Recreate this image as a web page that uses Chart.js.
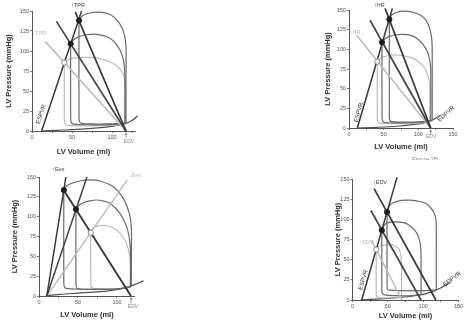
<!DOCTYPE html>
<html><head><meta charset="utf-8">
<script src="https://cdn.jsdelivr.net/npm/chart.js@4.4.1/dist/chart.umd.min.js"></script>
<style>
html,body{margin:0;padding:0;background:#fff;width:467px;height:322px;overflow:hidden;position:relative}
canvas{position:absolute}
</style></head><body>
<canvas id="c1" width="145" height="160" style="left:0;top:0"></canvas>
<canvas id="c2" width="149" height="160" style="left:318px;top:0"></canvas>
<canvas id="c3" width="150" height="162" style="left:0;top:160px"></canvas>
<canvas id="c4" width="142" height="160" style="left:325px;top:162px"></canvas>
<script>
// ---- axis ticks / titles ----
const volTicks = [0,25,50,75,100,125,150];
const volLabels = [0,50,100,150];
const pressTicks = [0,25,50,75,100,125,150];
const xTitle = 'LV Volume (ml)';
const yTitle = 'LV Pressure (mmHg)';

// ---- Panel 1 : TPR ----
const tpr_espvr = [[12,0],[62,150]];
const tpr_eaUp = [[54,149],[117.5,0]];
const tpr_eaBase = [[30.5,137],[117.5,0]];
const tpr_eaDown = [[16.5,112],[117.5,0]];
const tpr_edpvr = [[12,0],[30,0.8],[50,1.8],[75,3.3],[95,5.2],[108,7.2],[117.5,9.5],[125,13],[132,19]];
const tpr_esp = [[58.75,138],[48.3,109],[40.4,85.4]];
const tpr_loopUpArc = [[58.75,138],[63,144],[72,147.5],[85,148.5],[97,146],[106,139],[112,130],[116,118],[117.5,105],[117.5,60],[117.5,30],[117.5,10]];
const tpr_loopBaseArc = [[48.3,109],[52,114],[60,118.5],[70,120.5],[78,121],[88,119.5],[97.5,116],[105,109],[110,101],[113.5,92],[115.5,80],[116,60],[116,30],[116,10]];
const tpr_loopDownArc = [[40.4,85.4],[45,89],[52,91.2],[62,92],[72,92],[82,91],[92,88.5],[102,84],[109,78.5],[114,71],[116.5,63],[117,50],[117,25],[117,9]];
const tpr_loopUpFill = [[58.75,138],[58.75,20],[59.3,12],[62,9.5],[75,8.8],[95,8.8],[108,9.2],[117.5,10]];
const tpr_loopBaseFill = [[48.3,109],[48.3,18],[49,11],[52,8.5],[70,7.8],[95,8],[108,8.8],[116,10]];
const tpr_loopDownFill = [[40.4,85.4],[40.4,16],[41,9.5],[44,7],[65,6.5],[95,7],[108,8],[117,9]];

// ---- Panel 2 : HR ----
const hr_espvr = [[12,0],[62.5,152]];
const hr_eaUp = [[52,152],[117.8,0]];
const hr_eaBase = [[30.3,137],[117.8,0]];
const hr_eaDown = [[11,118],[117.8,0]];
const hr_edpvr = [[12,0],[40,0.8],[70,2.2],[95,4.5],[108,6.5],[117.8,9],[125,12.5],[131,16]];
const hr_esp = [[58.2,138],[47.6,109],[40.9,84.3]];
const hr_loopUpArc = [[58.2,138],[62,144],[70,147.5],[80,148.5],[88,148],[98,145.5],[107,141],[113,134],[117,124.5],[119.5,112],[120,99],[120,60],[120,30],[120,9.5]];
const hr_loopBaseArc = [[47.6,109],[52,113.5],[59,116.5],[68,118.5],[78,119],[88,118],[97.6,114],[106,107],[112,99],[115.5,90],[117.5,80],[118,65],[118,30],[118,9]];
const hr_loopDownArc = [[40.9,84.3],[45,88],[50,90.5],[60,92.5],[69,93],[80,91.5],[92.7,88.5],[102,83],[109.6,76],[113.5,67],[115.5,60],[116.5,50],[116.5,25],[116.5,8.5]];
const hr_loopUpFill = [[58.2,138],[58.2,18],[58.8,10.5],[61.5,8],[80,7.5],[100,7.8],[112,8.5],[120,9.5]];
const hr_loopBaseFill = [[47.6,109],[47.6,16],[48.2,9.5],[51,7],[75,6.5],[100,7],[112,8],[118,9]];
const hr_loopDownFill = [[40.9,84.3],[40.9,14],[41.5,8.5],[44.5,6],[70,5.5],[100,6.3],[112,7.5],[116.5,8.5]];

// ---- Panel 3 : Ees ----
const ees_espvrUp = [[10,0],[34.5,150]];
const ees_espvrBase = [[10,0],[61.5,150]];
const ees_espvrDown = [[10,0],[113,146]];
const ees_ea = [[31,134.5],[118,0]];
const ees_edpvr = [[10,0.5],[30,2.2],[46,3.4],[70,5],[89,6.5],[103,8.5],[112,11],[122,14],[134,19]];
const ees_esp = [[31.8,133.5],[47.4,109.2],[66.4,79.8]];
const ees_loopUpArc = [[31.8,133.5],[35,138],[39.7,141.2],[52.6,145],[65.4,146.3],[78.2,145],[95.3,137.8],[108.1,123.1],[115.8,104.2],[118.5,85],[118.5,60],[118.5,30],[118.5,12]];
const ees_loopBaseArc = [[47.4,109.2],[51,114],[56.8,117.6],[65,120],[74,121],[83,119.5],[91,116.8],[103.8,104.2],[112.4,87.4],[116.5,68],[117.5,50],[117.5,30],[117.5,11.5]];
const ees_loopDownArc = [[66.4,79.8],[68.5,84],[71.8,87.4],[79,88.5],[86.8,88.6],[99.6,83.2],[110.3,70.6],[115.8,53.8],[117,40],[117,25],[117,11.5]];
const ees_loopUpFill = [[31.8,133.5],[31.8,18],[32.5,12],[35,9.5],[55,8.5],[80,8.3],[100,8.8],[110,10],[118.5,12]];
const ees_loopBaseFill = [[47.4,109.2],[47.4,17],[48,11.5],[50.5,9],[70,8.3],[95,8.5],[110,10],[117.5,11.5]];
const ees_loopDownFill = [[66.4,79.8],[66.4,16],[67,11.5],[69.5,9.5],[85,9],[100,9.3],[110,10.5],[117,11.5]];

// ---- Panel 4 : EDV ----
const edv_espvr = [[13,0],[63,152]];
const edv_eaUp = [[30.5,138],[118,0]];
const edv_eaBase = [[26,111],[97,0]];
const edv_eaDown = [[27,74],[70,0]];
const edv_edpvr = [[11,0],[25,0.8],[40,1.5],[60,2.6],[77,4],[95,6.3],[105,8.3],[115,11],[124,14.5],[132,18.5],[138,22]];
const edv_esp = [[48.9,109],[41.5,86.5],[33.6,62.6]];
const edv_loopUpArc = [[48.9,109],[52,116],[56,120],[61.8,121.9],[70,123.5],[80.4,123.8],[92,122.5],[103.6,120],[110,115],[115.2,108.5],[118,100],[118.5,87],[118.5,60],[118.5,30],[118.5,12.5]];
const edv_loopBaseArc = [[41.5,86.5],[44,91.5],[47.8,95],[54,96.5],[61.8,96.9],[70,96.3],[75.7,95],[82,91.5],[87.3,87.3],[91.5,82],[94.3,75.8],[96.6,64.2],[97,50],[97,25],[97,6.5]];
const edv_loopDownArc = [[33.6,62.6],[36,65.5],[40,67],[45.5,68],[52,68.3],[57,68],[62,66],[66.4,62.3],[68.7,52.7],[69.5,40],[69.5,20],[69.5,3]];
const edv_loopUpFill = [[48.9,109],[48.9,17],[49.5,13.5],[52,12.3],[70,11.6],[90,11.4],[105,11.6],[118.5,12.5]];
const edv_loopBaseFill = [[41.5,86.5],[41.5,12],[42.2,8],[45,6.3],[60,5.3],[80,5.3],[97,6.5]];
const edv_loopDownFill = [[33.6,62.6],[33.6,8],[34.3,4.5],[37,3],[50,2.5],[69.5,3]];

// ---- styling ----
const FONT = '"Liberation Sans", Arial, sans-serif';
const DARK = '#383838', MID = '#6a6a6a', LIGHT = '#bdbdbd', AXIS = '#555555';

function pts(a){ return a.map(p => ({x:p[0], y:p[1]})); }
function ln(a, color, w, t){
  return {data:pts(a), showLine:true, borderColor:color, backgroundColor:color, borderWidth:w,
          pointRadius:0, tension:t||0, clip:false, fill:false};
}
function mk(a, fills, strokes){
  return {data:pts(a), showLine:false, pointRadius:2.6, pointStyle:'circle',
          pointBackgroundColor:fills, pointBorderColor:strokes, pointBorderWidth:1, clip:false};
}

const annot = {
  id:'annot',
  afterDatasetsDraw(chart, args, o){
    const ctx = chart.ctx, xs = chart.scales.x, ys = chart.scales.y;
    ctx.save();
    (o.texts||[]).forEach(t => {
      ctx.save();
      ctx.translate(xs.getPixelForValue(t.at[0]), ys.getPixelForValue(t.at[1]));
      if (t.rot) ctx.rotate(t.rot*Math.PI/180);
      ctx.font = (t.bold?'bold ':'') + (t.size||5.5) + 'px ' + FONT;
      ctx.fillStyle = t.color || DARK;
      ctx.textAlign = 'center'; ctx.textBaseline = 'middle';
      ctx.fillText(t.text, 0, 0);
      ctx.restore();
    });
    if (o.edv){
      const x = xs.getPixelForValue(o.edv.v), y0 = ys.getPixelForValue(0);
      ctx.strokeStyle = '#8a8a8a'; ctx.fillStyle = '#8a8a8a'; ctx.lineWidth = 0.8;
      ctx.beginPath(); ctx.moveTo(x, y0+7); ctx.lineTo(x, y0+3); ctx.stroke();
      ctx.beginPath(); ctx.moveTo(x, y0+1); ctx.lineTo(x-1.5, y0+3.8); ctx.lineTo(x+1.5, y0+3.8); ctx.closePath(); ctx.fill();
      ctx.font = '5px ' + FONT; ctx.textAlign = 'center'; ctx.textBaseline = 'middle';
      ctx.fillText('EDV', x + o.edv.dx, y0 + o.edv.dy);
    }
    (o.raw||[]).forEach(t => {
      ctx.font = t.size + 'px ' + FONT; ctx.fillStyle = t.color;
      ctx.textAlign = 'center'; ctx.textBaseline = 'top';
      ctx.fillText(t.text, t.x, t.y);
    });
    ctx.restore();
  }
};

function panel(id, g, datasets, ann){
  new Chart(document.getElementById(id), {
    type:'scatter',
    data:{datasets},
    options:{
      responsive:false, animation:false, events:[],
      layout:{autoPadding:false, padding:{left:0, top:g.pt, right:g.pr, bottom:0}},
      plugins:{legend:{display:false}, tooltip:{enabled:false}, annot:ann},
      scales:{
        x:{type:'linear', min:0, max:g.xmax,
          afterBuildTicks:s => { s.ticks = volTicks.filter(v => v <= g.xmax).map(v => ({value:v})); },
          afterFit:s => { s.height = g.xh; },
          ticks:{callback:v => volLabels.includes(v) ? String(v) : '', color:AXIS,
                 font:{family:FONT, size:5.5}, padding:1, maxRotation:0, minRotation:0, autoSkip:false},
          grid:{drawOnChartArea:false, drawTicks:true, tickLength:2, color:AXIS, lineWidth:0.8},
          border:{display:true, color:AXIS, width:1},
          title:{display:true, text:xTitle, color:'#2e2e2e', font:{family:FONT, size:7.5, weight:'bold'},
                 padding:{top:0, bottom:g.xtb}}
        },
        y:{type:'linear', min:0, max:150,
          afterBuildTicks:s => { s.ticks = pressTicks.map(v => ({value:v})); },
          afterFit:s => { s.width = g.yw; },
          ticks:{callback:v => String(v), color:AXIS, font:{family:FONT, size:5.5}, padding:1, autoSkip:false},
          grid:{drawOnChartArea:false, drawTicks:true, tickLength:2, color:AXIS, lineWidth:0.8},
          border:{display:true, color:AXIS, width:1},
          title:{display:true, text:yTitle, color:'#2e2e2e', font:{family:FONT, size:7.5, weight:'bold'},
                 padding:{top:g.ytp, bottom:0}}
        }
      }
    },
    plugins:[annot]
  });
}

const T = 0.35;
const markFill = ['#1e1e1e','#1e1e1e','#ffffff'];
const markStroke = ['#1e1e1e','#1e1e1e','#8a8a8a'];

// Panel 1
panel('c1', {pt:11, pr:10, xh:29, yw:32, xmax:128.75, xtb:3.5, ytp:4.5}, [
  mk(tpr_esp, markFill, markStroke),
  ln(tpr_espvr, DARK, 1.5),
  ln(tpr_eaUp, DARK, 1.7),
  ln(tpr_eaBase, '#444', 1.7),
  ln(tpr_eaDown, LIGHT, 1.6),
  ln(tpr_loopUpArc, MID, 1.2, T), ln(tpr_loopUpFill, MID, 1.2, T),
  ln(tpr_loopBaseArc, MID, 1.2, T), ln(tpr_loopBaseFill, MID, 1.2, T),
  ln(tpr_loopDownArc, LIGHT, 1.2, T), ln(tpr_loopDownFill, LIGHT, 1.2, T),
  ln(tpr_edpvr, '#505050', 1.2, T)
], {
  texts:[
    {text:'↑TPR', at:[57.5,157], color:'#444'},
    {text:'↓TPR', at:[9,122], color:'#b8b8b8'},
    {text:'ESPVR', at:[11.5,21], rot:-71.6, size:6, color:'#333'}
  ],
  edv:{v:117.5, dx:3, dy:11}
});

// Panel 2
panel('c2', {pt:10, pr:14, xh:32, yw:31, xmax:150, xtb:8.5, ytp:5.2}, [
  mk(hr_esp, markFill, markStroke),
  ln(hr_espvr, DARK, 1.5),
  ln(hr_eaUp, DARK, 1.7),
  ln(hr_eaBase, '#444', 1.7),
  ln(hr_eaDown, LIGHT, 1.6),
  ln(hr_loopUpArc, MID, 1.2, T), ln(hr_loopUpFill, MID, 1.2, T),
  ln(hr_loopBaseArc, MID, 1.2, T), ln(hr_loopBaseFill, MID, 1.2, T),
  ln(hr_loopDownArc, LIGHT, 1.2, T), ln(hr_loopDownFill, LIGHT, 1.2, T),
  ln(hr_edpvr, '#505050', 1.2, T)
], {
  texts:[
    {text:'↑HR', at:[43.7,156.3], color:'#444'},
    {text:'↓HR', at:[8.7,122], color:'#b8b8b8'},
    {text:'ESPVR', at:[14,20], rot:-73.6, size:6, color:'#333'},
    {text:'EDPVR', at:[140,18], rot:-42, size:6, color:'#333'}
  ],
  edv:{v:117.8, dx:0.5, dy:9},
  raw:[{text:'Figure 2B', x:107, y:156.5, size:6, color:'#8a8a8a'}]
});

// Panel 3
panel('c3', {pt:17, pr:15.1, xh:26, yw:39, xmax:123, xtb:2.5, ytp:10.5}, [
  mk(ees_esp, markFill, markStroke),
  ln(ees_ea, DARK, 1.9),
  ln(ees_espvrUp, DARK, 1.5),
  ln(ees_espvrBase, '#444', 1.5),
  ln(ees_espvrDown, LIGHT, 1.4),
  ln(ees_loopUpArc, MID, 1.2, T), ln(ees_loopUpFill, MID, 1.2, T),
  ln(ees_loopBaseArc, MID, 1.2, T), ln(ees_loopBaseFill, MID, 1.2, T),
  ln(ees_loopDownArc, LIGHT, 1.2, T), ln(ees_loopDownFill, LIGHT, 1.2, T),
  ln(ees_edpvr, '#505050', 1.2, T)
], {
  texts:[
    {text:'↑Ees', at:[24.8,159], color:'#444'},
    {text:'↓Ees', at:[123,152.5], color:'#b8b8b8'}
  ],
  edv:{v:118, dx:2, dy:10.7}
});

// Panel 4
panel('c4', {pt:17, pr:8.5, xh:22, yw:27.5, xmax:150, xtb:1.5, ytp:8.5}, [
  mk(edv_esp, markFill, markStroke),
  ln(edv_espvr, DARK, 1.5),
  ln(edv_eaUp, DARK, 1.7),
  ln(edv_eaBase, '#444', 1.7),
  ln(edv_eaDown, LIGHT, 1.6),
  ln(edv_loopUpArc, MID, 1.2, T), ln(edv_loopUpFill, MID, 1.2, T),
  ln(edv_loopBaseArc, MID, 1.2, T), ln(edv_loopBaseFill, MID, 1.2, T),
  ln(edv_loopDownArc, LIGHT, 1.2, T), ln(edv_loopDownFill, LIGHT, 1.2, T),
  ln(edv_edpvr, '#505050', 1.2, T)
], {
  texts:[
    {text:'↑EDV', at:[38.9,145.4], color:'#444'},
    {text:'↓EDV', at:[20,71], color:'#b8b8b8'},
    {text:'ESPVR', at:[15.3,24.8], rot:-74, size:6, color:'#333'},
    {text:'EDPVR', at:[141,26], rot:-38, size:6, color:'#333'}
  ]
});
</script>
</body></html>
